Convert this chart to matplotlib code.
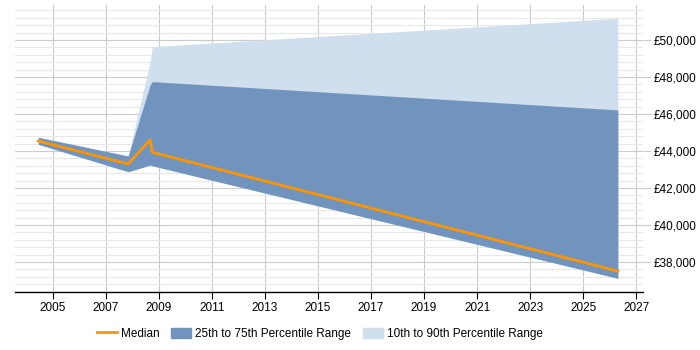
import matplotlib
matplotlib.use('Agg')
import matplotlib.pyplot as plt
import matplotlib.patches as mpatches
from matplotlib.lines import Line2D
from matplotlib.ticker import MultipleLocator, FuncFormatter

plt.rcParams['font.family'] = ['Liberation Sans', 'DejaVu Sans']

# ── data ──────────────────────────────────────────────────────────────────────
years = [2004.45, 2007.84, 2008.67, 2008.75, 2026.31]
median = [44540, 43300, 44600, 43930, 37510]
p25 = [44360, 42880, 43240, 43200, 37120]
p75 = [44740, 43730, 47580, 47750, 46220]
p10 = [44360, 42880, 43240, 43200, 37120]
p90 = [44740, 43730, 48830, 49640, 51170]

# ── palette ───────────────────────────────────────────────────────────────────
ORANGE = '#ff9500'
DARK_BAND = '#7094bd'
LIGHT_BAND = '#d0dfee'
GRID_MAJOR = '#cccccc'
GRID_MINOR = '#e8e8e8'

fig = plt.figure(figsize=(7, 3.5), dpi=100)
ax = fig.add_axes([0.0214, 0.1657, 0.8972, 0.82])

ax.fill_between(years, p10, p90, color=LIGHT_BAND, lw=0, zorder=2)
ax.fill_between(years, p25, p75, color=DARK_BAND, lw=0, zorder=3)
ax.plot(years, median, color=ORANGE, lw=2, zorder=4)

ax.set_xlim(2003.57, 2027.26)
ax.set_ylim(36380, 51890)

ax.set_xticks(range(2005, 2028, 2))
ax.xaxis.set_major_formatter(FuncFormatter(lambda v, p: f'{int(v)}'))
ax.yaxis.set_major_locator(MultipleLocator(2000))
ax.yaxis.set_minor_locator(MultipleLocator(400))
ax.yaxis.set_major_formatter(FuncFormatter(lambda v, p: f'£{int(v):,}'))
ax.yaxis.tick_right()

ax.grid(axis='x', which='major', color=GRID_MAJOR, lw=0.8, zorder=1)
ax.grid(axis='y', which='major', color=GRID_MAJOR, lw=0.8, zorder=1)
ax.grid(axis='y', which='minor', color=GRID_MINOR, lw=0.8, zorder=1)
ax.set_axisbelow(True)

for s in ['top', 'right', 'left']:
    ax.spines[s].set_visible(False)
ax.spines['bottom'].set_color('#000000')
ax.spines['bottom'].set_linewidth(1)

ax.tick_params(axis='x', length=5, color='#000000', labelsize=8.5, pad=2)
ax.tick_params(axis='y', which='major', length=6, color=GRID_MAJOR, labelsize=8.5, pad=2)
ax.tick_params(axis='y', which='minor', length=0)

handles = [
    Line2D([0], [0], color=ORANGE, lw=2),
    mpatches.Patch(color=DARK_BAND),
    mpatches.Patch(color=LIGHT_BAND),
]
labels = ['Median', '25th to 75th Percentile Range', '10th to 90th Percentile Range']
fig.legend(handles, labels, loc='center', bbox_to_anchor=(0.457, 0.046), ncol=3,
           frameon=False, fontsize=8.5, handlelength=1.7, handleheight=1.0,
           columnspacing=0.95, handletextpad=0.35)

fig.savefig('out.png', dpi=100, facecolor='white')
